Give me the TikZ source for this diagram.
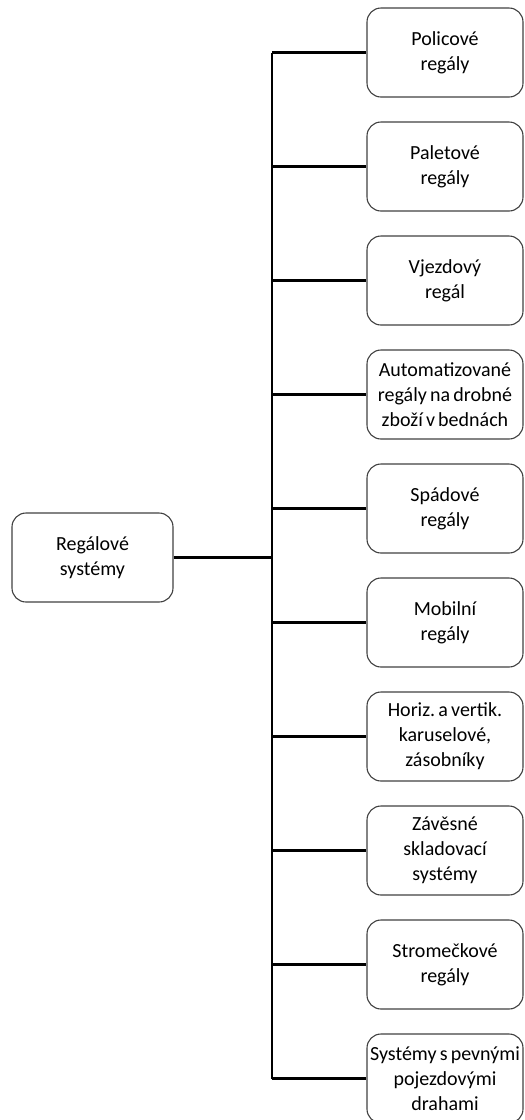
\documentclass[tikz,border=0pt]{standalone}
\usepackage{fontspec}
\setmainfont[WordSpace=0.7]{Carlito}
\usetikzlibrary{positioning,calc}
\frenchspacing

\tikzset{
    itembox/.style={draw=black!75, line width=1.1pt, rounded corners=14pt,
        minimum width=156pt, minimum height=89pt, align=center,
        inner xsep=0pt, inner ysep=2pt, font=\fontsize{20}{25}\selectfont},
    rootbox/.style={itembox, minimum width=161pt},
    branch/.style={line width=2.4pt, black}
}

\begin{document}
\begin{tikzpicture}[x=1pt, y=-1pt]
    \useasboundingbox (0,0) rectangle (525,1120);

    % Root
    \node[rootbox] (root) at (92.5,557.5) {Regálové\\systémy};

    % Branches
    \node[itembox] (box1)  at (445,52.5)   {Policové\\regály};
    \node[itembox] (box2)  at (445,166.5)  {Paletové\\regály};
    \node[itembox] (box3)  at (445,280.5)  {Vjezdový\\regál};
    \node[itembox] (box4)  at (445,394.5)  {Automatizované\\regály na drobné\\zboží v bednách};
    \node[itembox] (box5)  at (445,508.5)  {Spádové\\regály};
    \node[itembox] (box6)  at (445,622.5)  {Mobilní\\regály};
    \node[itembox] (box7)  at (445,736.5)  {Horiz. a vertik.\\karuselové,\\zásobníky};
    \node[itembox] (box8)  at (445,850.5)  {Závěsné\\skladovací\\systémy};
    \node[itembox] (box9)  at (445,964.5)  {Stromečkové\\regály};
    \node[itembox] (box10) at (445,1078.5) {Systémy s pevnými\\pojezdovými\\drahami};

    % Trunk
    \coordinate (trunk) at (272,557.5);
    \draw[branch] (root.east) -- (root.east -| trunk);
    \draw[branch] (box1.west -| trunk) -- (box10.west -| trunk);
    \foreach \i in {1,...,10} {
        \draw[branch] (box\i.west -| trunk) -- (box\i.west);
    }
\end{tikzpicture}
\end{document}
